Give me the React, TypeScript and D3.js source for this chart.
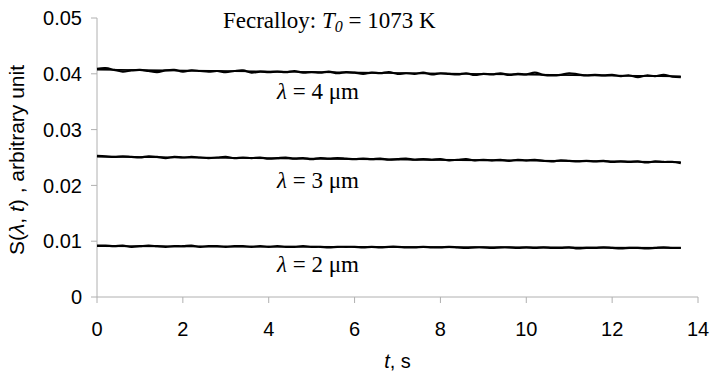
import React from "react";
import * as d3 from "d3";

// Sampling interval of the recorded signals, seconds
const DT = 0.2;

// Recorded signal S(λ, t) for each wavelength
const s4um = [
  0.0409, 0.0410, 0.0407, 0.0404, 0.0406, 0.0407, 0.0405, 0.0403, 0.0406, 0.0407,
  0.0404, 0.0406, 0.0405, 0.0404, 0.0405, 0.0403, 0.0405, 0.0406, 0.0402, 0.0404,
  0.0403, 0.0404, 0.0403, 0.0405, 0.0402, 0.0403, 0.0402, 0.0404, 0.0401, 0.0403,
  0.0402, 0.0400, 0.0402, 0.0401, 0.0403, 0.0400, 0.0401, 0.0400, 0.0402, 0.0399,
  0.0401, 0.0400, 0.0399, 0.0401, 0.0398, 0.0400, 0.0399, 0.0401, 0.0398, 0.0400,
  0.0399, 0.0402, 0.0398, 0.0397, 0.0398, 0.0401, 0.0399, 0.0397, 0.0398, 0.0397,
  0.0398, 0.0396, 0.0397, 0.0394, 0.0397, 0.0396, 0.0398, 0.0395, 0.0394,
];
const s3um = [
  0.0253, 0.0252, 0.0251, 0.0252, 0.0251, 0.0250, 0.0252, 0.0251, 0.0249, 0.0251,
  0.0250, 0.0251, 0.0250, 0.0249, 0.0250, 0.0251, 0.0249, 0.0250, 0.0249, 0.0250,
  0.0248, 0.0249, 0.0250, 0.0248, 0.0249, 0.0247, 0.0249, 0.0248, 0.0249, 0.0248,
  0.0247, 0.0248, 0.0247, 0.0248, 0.0246, 0.0247, 0.0248, 0.0246, 0.0247, 0.0246,
  0.0247, 0.0245, 0.0246, 0.0247, 0.0245, 0.0246, 0.0245, 0.0246, 0.0244, 0.0246,
  0.0245, 0.0246, 0.0244, 0.0243, 0.0245, 0.0244, 0.0243, 0.0244, 0.0243, 0.0244,
  0.0242, 0.0243, 0.0242, 0.0243, 0.0241, 0.0243, 0.0242, 0.0242, 0.0240,
];
const s2um = [
  0.0092, 0.0092, 0.0091, 0.0092, 0.0090, 0.0091, 0.0092, 0.0091, 0.0090, 0.0091,
  0.0091, 0.0092, 0.0090, 0.0091, 0.0091, 0.0090, 0.0091, 0.0091, 0.0090, 0.0091,
  0.0090, 0.0091, 0.0090, 0.0090, 0.0091, 0.0090, 0.0090, 0.0089, 0.0090, 0.0090,
  0.0090, 0.0089, 0.0090, 0.0089, 0.0090, 0.0090, 0.0089, 0.0089, 0.0090, 0.0089,
  0.0089, 0.0090, 0.0089, 0.0088, 0.0089, 0.0089, 0.0088, 0.0089, 0.0089, 0.0088,
  0.0089, 0.0088, 0.0089, 0.0088, 0.0088, 0.0089, 0.0087, 0.0088, 0.0088, 0.0089,
  0.0088, 0.0087, 0.0088, 0.0088, 0.0087, 0.0088, 0.0089, 0.0088, 0.0088,
];

// Linear fits: value at start and end of the record
const fitTimes = [0, 13.6];
const fit4um = [0.04075, 0.03955];
const fit3um = [0.02515, 0.02418];
const fit2um = [0.00912, 0.0088];

const series = [
  { name: "4", data: s4um, fit: fit4um },
  { name: "3", data: s3um, fit: fit3um },
  { name: "2", data: s2um, fit: fit2um },
];

const xTicks = [0, 2, 4, 6, 8, 10, 12, 14];
const yTicks = [0, 0.01, 0.02, 0.03, 0.04, 0.05];

const W = 713;
const H = 375;
const M = { left: 97, right: 15, top: 18, bottom: 78 };

export default function App() {
  const x = d3.scaleLinear().domain([0, 14]).range([M.left, W - M.right]);
  const y = d3.scaleLinear().domain([0, 0.05]).range([H - M.bottom, M.top]);

  const noisy = d3
    .line<number>()
    .x((_, i) => x(i * DT))
    .y((d) => y(d))
    .curve(d3.curveCatmullRom.alpha(0.5));
  const straight = d3
    .line<number>()
    .x((_, i) => x(fitTimes[i]))
    .y((d) => y(d));

  const axisColor = "#b0b0b0";
  const sans = "Arial, 'Liberation Sans', sans-serif";
  const serif = "'Times New Roman', 'Liberation Serif', serif";
  const fmt = (v: number) => (v === 0 ? "0" : v.toFixed(2));

  const labelY = [0.0355, 0.0195, 0.0045];

  return (
    <svg
      width={W}
      height={H}
      style={{ position: "absolute", left: 0, top: 0, background: "#fff" }}
    >
      {/* axes */}
      <line x1={x(0)} x2={x(0)} y1={y(0)} y2={y(0.05)} stroke={axisColor} />
      <line x1={x(0)} x2={x(14)} y1={y(0)} y2={y(0)} stroke={axisColor} />
      {yTicks.map((t) => (
        <g key={"y" + t}>
          <line x1={x(0) - 6} x2={x(0)} y1={y(t)} y2={y(t)} stroke={axisColor} />
          <text
            x={x(0) - 15}
            y={y(t)}
            dy="0.36em"
            textAnchor="end"
            fontFamily={sans}
            fontSize={20}
          >
            {fmt(t)}
          </text>
        </g>
      ))}
      {xTicks.map((t) => (
        <g key={"x" + t}>
          <line x1={x(t)} x2={x(t)} y1={y(0)} y2={y(0) + 6} stroke={axisColor} />
          <text
            x={x(t)}
            y={336}
            textAnchor="middle"
            fontFamily={sans}
            fontSize={20}
          >
            {t}
          </text>
        </g>
      ))}

      {/* data and fits */}
      {series.map((s) => (
        <g key={s.name}>
          <path d={noisy(s.data) || ""} fill="none" stroke="#000" strokeWidth={2.2} />
          <path d={straight(s.fit) || ""} fill="none" stroke="#000" strokeWidth={1.8} />
        </g>
      ))}

      {/* curve labels */}
      {series.map((s, i) => (
        <text
          key={"l" + s.name}
          x={277}
          y={y(labelY[i])}
          fontFamily={serif}
          fontSize={23}
        >
          <tspan fontStyle="italic">λ</tspan>
          {` = ${s.name} μm`}
        </text>
      ))}

      <text x={223} y={28} fontFamily={serif} fontSize={23}>
        Fecralloy: <tspan fontStyle="italic">T</tspan>
        <tspan fontStyle="italic" fontSize={16} dy={4}>0</tspan>
        <tspan dy={-4}> = 1073 K</tspan>
      </text>

      {/* axis titles */}
      <text x={(x(0) + x(14)) / 2} y={368} textAnchor="middle" fontFamily={sans} fontSize={20}>
        <tspan fontStyle="italic">t</tspan>, s
      </text>
      <text
        transform={`translate(24, 160) rotate(-90)`}
        textAnchor="middle"
        fontFamily={sans}
        fontSize={21}
      >
        S(<tspan fontStyle="italic">λ</tspan>, <tspan fontStyle="italic">t</tspan>) , arbitrary unit
      </text>
    </svg>
  );
}
